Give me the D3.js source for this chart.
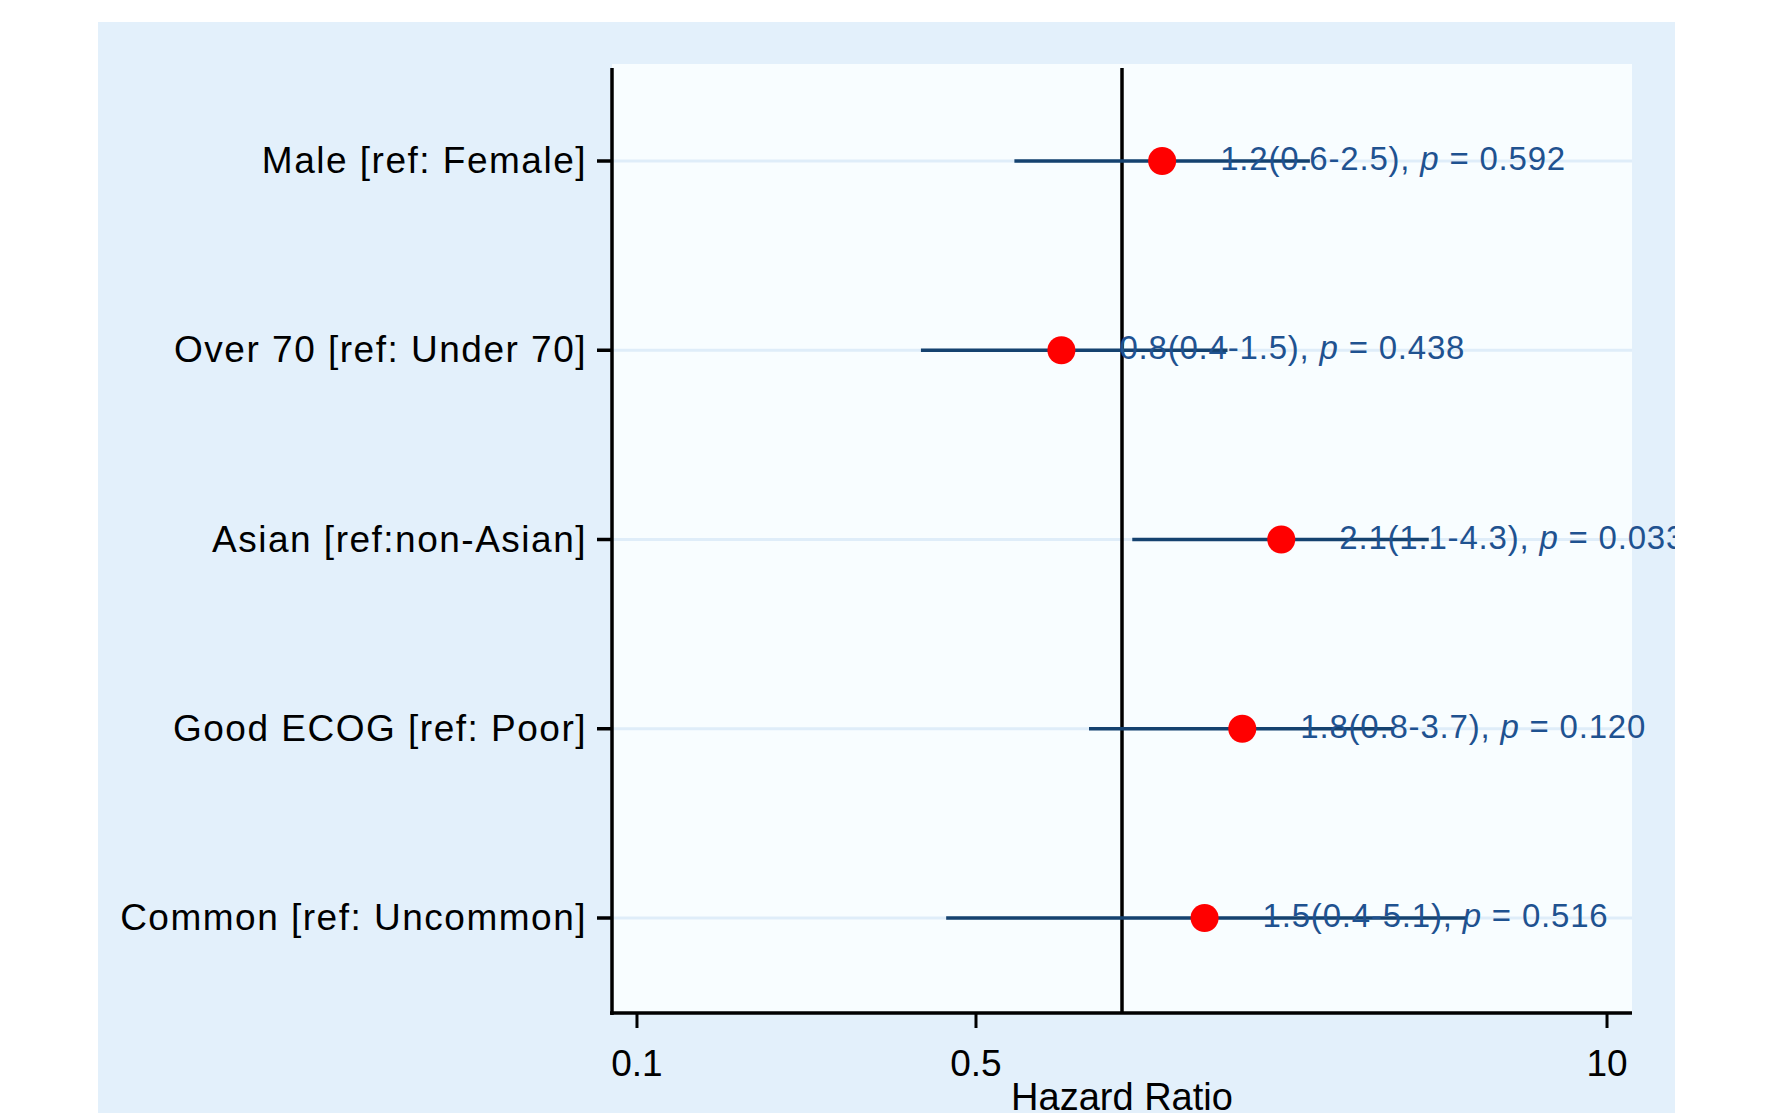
<!DOCTYPE html>
<html>
<head>
<meta charset="utf-8">
<script src="https://cdn.jsdelivr.net/npm/d3@7"></script>
<style>
  html, body { margin: 0; padding: 0; background: #ffffff; }
  svg { display: block; }
  text { font-family: "Liberation Sans", Arial, sans-serif; }
</style>
</head>
<body>
<script>
// ---- data ----
const categories = [
  "Male [ref: Female]",
  "Over 70 [ref: Under 70]",
  "Asian [ref:non-Asian]",
  "Good ECOG [ref: Poor]",
  "Common [ref: Uncommon]"
];
const hazardRatio = [1.21, 0.75, 2.13, 1.77, 1.48];
const ciLow      = [0.60, 0.385, 1.05, 0.855, 0.434];
const ciHigh     = [2.44, 1.65, 4.29, 3.62, 5.12];
const estimateText = ["1.2(0.6-2.5)", "0.8(0.4-1.5)", "2.1(1.1-4.3)", "1.8(0.8-3.7)", "1.5(0.4-5.1)"];
const pText        = ["0.592", "0.438", "0.033", "0.120", "0.516"];
const xTicks = [0.1, 0.5, 10];
const xTickLabels = ["0.1", "0.5", "10"];
const xTitle = "Hazard Ratio";
const refValue = 1;

// ---- layout ----
const W = 1766, H = 1113;
const outer = {x0: 98, y0: 22, x1: 1675, y1: 1120};
const plot = {x0: 612, y0: 64, x1: 1632, y1: 1013};

const svg = d3.select("body").append("svg").attr("width", W).attr("height", H);

svg.append("rect").attr("x", outer.x0).attr("y", outer.y0)
  .attr("width", outer.x1 - outer.x0).attr("height", outer.y1 - outer.y0)
  .attr("fill", "#e3f0fb");
svg.append("rect").attr("x", plot.x0).attr("y", plot.y0)
  .attr("width", plot.x1 - plot.x0).attr("height", plot.y1 - plot.y0)
  .attr("fill", "#f8fdff");

svg.append("defs").append("clipPath").attr("id", "outerClip")
  .append("rect").attr("x", outer.x0).attr("y", outer.y0)
  .attr("width", outer.x1 - outer.x0).attr("height", outer.y1 - outer.y0);

const x = d3.scaleLog().domain([Math.pow(10, -1.0515), Math.pow(10, 1.0515)]).range([plot.x0, plot.x1]);
const y = d3.scalePoint().domain(categories).range([161, 918]);

const rows = categories.map((c, i) => ({
  cat: c, hr: hazardRatio[i], lo: ciLow[i], hi: ciHigh[i], est: estimateText[i], p: pText[i]
}));

// gridlines
svg.append("g").selectAll("line").data(rows).join("line")
  .attr("x1", plot.x0).attr("x2", plot.x1)
  .attr("y1", d => y(d.cat)).attr("y2", d => y(d.cat))
  .attr("stroke", "#dfedf9").attr("stroke-width", 3);

// reference line
svg.append("line")
  .attr("x1", x(refValue)).attr("x2", x(refValue))
  .attr("y1", 68).attr("y2", plot.y1)
  .attr("stroke", "#000").attr("stroke-width", 3.5);

// CI lines
svg.append("g").selectAll("line").data(rows).join("line")
  .attr("x1", d => x(d.lo)).attr("x2", d => x(d.hi))
  .attr("y1", d => y(d.cat)).attr("y2", d => y(d.cat))
  .attr("stroke", "#15426f").attr("stroke-width", 3.6);

// markers
svg.append("g").selectAll("circle").data(rows).join("circle")
  .attr("cx", d => x(d.hr)).attr("cy", d => y(d.cat)).attr("r", 14)
  .attr("fill", "#ff0000");

// estimate labels
const lbl = svg.append("g").attr("clip-path", "url(#outerClip)")
  .selectAll("text").data(rows).join("text")
  .attr("x", d => x(d.hr) + 58).attr("y", d => y(d.cat) + 9)
  .attr("font-size", 33).attr("letter-spacing", 0.8)
  .attr("fill", "#1f5290");
lbl.append("tspan").text(d => d.est + ", ");
lbl.append("tspan").attr("font-style", "italic").text("p");
lbl.append("tspan").text(d => " = " + d.p);

// y axis
const yAxis = svg.append("g");
yAxis.append("line").attr("x1", plot.x0).attr("x2", plot.x0)
  .attr("y1", 68).attr("y2", plot.y1 + 2)
  .attr("stroke", "#000").attr("stroke-width", 3.5);
yAxis.selectAll("line.tick").data(categories).join("line").attr("class", "tick")
  .attr("x1", plot.x0 - 15).attr("x2", plot.x0)
  .attr("y1", d => y(d)).attr("y2", d => y(d))
  .attr("stroke", "#000").attr("stroke-width", 3.5);
yAxis.selectAll("text").data(categories).join("text")
  .attr("x", plot.x0 - 25).attr("y", d => y(d) + 12)
  .attr("text-anchor", "end").attr("font-size", 37).attr("letter-spacing", 1.5)
  .attr("fill", "#000").text(d => d);

// x axis
const xAxis = svg.append("g");
xAxis.append("line").attr("x1", plot.x0 - 2).attr("x2", plot.x1)
  .attr("y1", plot.y1).attr("y2", plot.y1)
  .attr("stroke", "#000").attr("stroke-width", 3.5);
xAxis.selectAll("line.tick").data(xTicks).join("line").attr("class", "tick")
  .attr("x1", d => x(d)).attr("x2", d => x(d))
  .attr("y1", plot.y1).attr("y2", plot.y1 + 15)
  .attr("stroke", "#000").attr("stroke-width", 3);
xAxis.selectAll("text").data(xTicks).join("text")
  .attr("x", d => x(d)).attr("y", 1076)
  .attr("text-anchor", "middle").attr("font-size", 37)
  .attr("fill", "#000").text((d, i) => xTickLabels[i]);
svg.append("text").attr("x", x(refValue)).attr("y", 1110)
  .attr("text-anchor", "middle").attr("font-size", 38)
  .attr("fill", "#000").text(xTitle);
</script>
</body>
</html>
